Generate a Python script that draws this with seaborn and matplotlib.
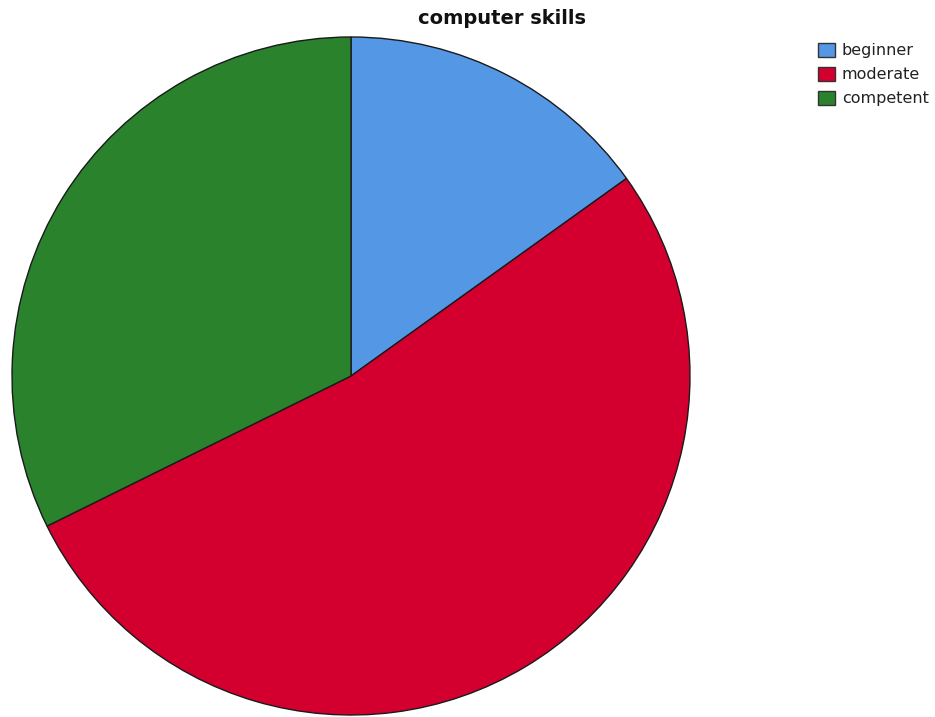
import matplotlib
matplotlib.use("Agg")
import matplotlib.pyplot as plt
import seaborn as sns

# Share of respondents by self-rated computer skill level (%)
categories = ["beginner", "moderate", "competent"]
shares = [15.1, 52.6, 32.3]
colors = ["#5497E5", "#D3002F", "#2A822C"]

sns.set_style("white")
plt.rcParams["font.family"] = ["DejaVu Sans"]

W, H = 935, 717
fig = plt.figure(figsize=(W / 100, H / 100), dpi=100)

cx, cy, r = 351, 376, 339
ax = fig.add_axes([(cx - r) / W, (H - cy - r) / H, 2 * r / W, 2 * r / H])

wedges, _ = ax.pie(
    shares,
    colors=colors,
    startangle=90,
    counterclock=False,
    radius=1.0,
    wedgeprops=dict(edgecolor="#1a1a1a", linewidth=1.0),
)
ax.set_xlim(-1.0, 1.0)
ax.set_ylim(-1.0, 1.0)
ax.set_aspect("equal")
ax.axis("off")

fig.text(502 / W, 1 - 19 / H, "computer skills", ha="center", va="center",
         fontsize=14, fontweight="bold", color="#111111")

leg = fig.legend(
    wedges, categories,
    loc="upper left",
    bbox_to_anchor=(818 / W, 1 - 42.5 / H),
    frameon=False,
    fontsize=11.5,
    handlelength=1.06,
    handleheight=1.0,
    handletextpad=0.44,
    labelspacing=0.53,
    borderaxespad=0,
    borderpad=0,
)
for h in leg.legend_handles:
    h.set_edgecolor("#333333")
    h.set_linewidth(1.0)
for t in leg.get_texts():
    t.set_color("#222222")

fig.savefig("out.png", dpi=100, facecolor="white")
